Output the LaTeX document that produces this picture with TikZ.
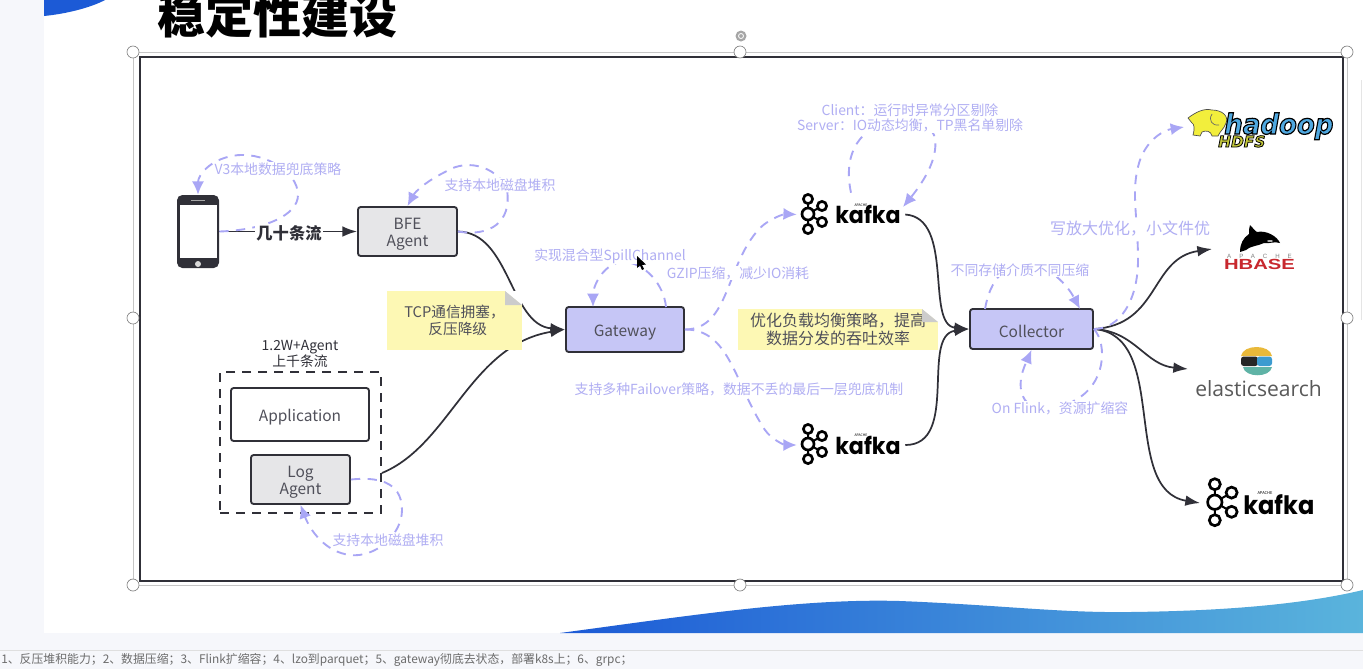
\documentclass[tikz,border=0pt]{standalone}
\usepackage{fontspec}
\setmainfont{Noto Sans CJK SC}
\newfontfamily\kaf{Poppins}
\newfontfamily\elas{Open Sans}
\newfontfamily\hadf{DejaVu Sans}
\newfontfamily\hbf{Liberation Sans}
\newfontfamily\hbsp[LetterSpace=130]{Liberation Sans}
\usetikzlibrary{arrows.meta,calc}
\newcommand\pxu{0.75pt}
\newcommand\fsz[1]{\fontsize{#1}{#1}\selectfont}
\newcommand\dnn{\rule{0pt}{13pt}}
\newcommand\outlined[2]{\special{pdf:code q 2 Tr #1 w 0 0 0 RG}#2\special{pdf:code Q}}
\definecolor{lav}{HTML}{A9A6F5}
\definecolor{lavtx}{HTML}{B0AEF3}
\definecolor{dk}{HTML}{303038}
\definecolor{boxtx}{HTML}{50505A}
\definecolor{grayfill}{HTML}{E6E6E8}
\definecolor{purfill}{HTML}{C6C6F6}
\definecolor{notey}{HTML}{FDF8B4}
\definecolor{pagebg}{HTML}{F6F7FB}
\definecolor{waveA}{HTML}{1C5AD6}
\definecolor{waveB}{HTML}{5AB4DC}
\definecolor{hadblue}{HTML}{4FA8E0}
\definecolor{hadyel}{HTML}{F2EE3C}
\definecolor{hdfsyel}{HTML}{C4C83A}
\definecolor{hbred}{HTML}{C8282E}
\definecolor{esyel}{HTML}{E9B93A}
\definecolor{esblue}{HTML}{3C9BD0}
\definecolor{esteal}{HTML}{5FB3A6}
\tikzset{
  boxs/.style={draw=dk,line width=1.4pt,rounded corners=2pt,align=center,text=boxtx,font=\fsz{11.6},inner sep=0pt},
  conn/.style={draw=dk,line width=1.3pt,-{Latex[length=11pt,width=8pt]}},
  pconn/.style={draw=lav,line width=1.4pt,dash pattern=on 7pt off 5.5pt,-{Latex[length=10pt,width=9pt,fill=lav]}},
  lbl/.style={text=lavtx,font=\fsz{10.4},fill=white,inner sep=0.6pt},
  notes/.style={fill=notey,inner sep=0pt,align=center,text=boxtx},
  logobox/.style={inner sep=0pt,minimum width=108*\pxu,minimum height=43*\pxu},
  handle/.style={circle,draw=gray,fill=white,line width=0.5pt,minimum size=12*\pxu,inner sep=0pt},
  kafkatxt/.style={anchor=base west,text=black,inner sep=0pt,xscale=0.95},
}
\newcommand\kafkaicon[3]{%
\begin{scope}[shift={(#1,#2)},scale=#3]
  \draw[black,line width=1.5pt] (9,6)--(9,36) (9,21)--(23,13) (9,21)--(23,29);
  \foreach \cx/\cy/\r in {9/6/4.6,23/13/4.6,9/21/6,23/29/4.6,9/36/4.6}
    \draw[black,fill=white,line width=2pt] (\cx,\cy) circle (\r);
\end{scope}}
\begin{document}
\begin{tikzpicture}[x=0.75pt,y=-0.75pt]
\clip (0,0) rectangle (1363,669);
% backdrop
\fill[pagebg] (0,0) rectangle (1363,669);
\fill[white] (44,0) rectangle (1363,633);
\draw[gray!25,line width=0.6pt] (0,650) -- (1363,650);
\draw[gray!20,line width=0.6pt] (1361,80) -- (1361,320);
\fill[waveA] (44,0) -- (105,0) .. controls (90,8) and (65,14) .. (44,16) -- cycle;
\shade[left color=waveA,right color=waveB]
  (560,633) .. controls (680,617) and (800,598) .. (900,601)
  .. controls (1000,605) and (1060,613) .. (1130,612)
  .. controls (1220,611) and (1300,605) .. (1363,590) -- (1363,633) -- cycle;
\node[anchor=center,font=\fsz{36}\bfseries,text=black,inner sep=0pt] (title) at (277,15) {稳定性建设};
\node[anchor=west,font=\fsz{8.9},text=gray!85!black,inner sep=0pt] (foot) at (1,660) {1、反压堆积能力；2、数据压缩；3、Flink扩缩容；4、lzo到parquet；5、gateway彻底去状态，部署k8s上；6、grpc；};
% selection frame
\draw[gray!45,line width=0.6pt] (133,52) rectangle (1347,585);
\draw[dk,line width=1.5pt] (140,57) rectangle (1343,581);
\foreach \hx/\hy in {133/52,740/52,1347/52,133/318,1347/318,133/585,740/585,1347/585}
  \node[handle] at (\hx,\hy) {};
\node[circle,fill=gray!70,minimum size=11*\pxu,inner sep=0pt] (rot) at (741,36) {};
\node[circle,draw=white,line width=0.6pt,minimum size=5*\pxu,inner sep=0pt] at (741,36) {};
% boxes
\node[boxs,fill=grayfill,minimum width=99*\pxu,minimum height=49*\pxu] (bfe) at (407.5,231.5) {\dnn BFE\\[1pt]Agent};
\node[boxs,fill=purfill,minimum width=118*\pxu,minimum height=45*\pxu] (gw) at (625,329.5) {\dnn Gateway};
\node[boxs,fill=purfill,minimum width=123*\pxu,minimum height=40*\pxu] (coll) at (1031.5,329) {\dnn Collector};
\node[boxs,fill=white,minimum width=138*\pxu,minimum height=53*\pxu] (app) at (300,414.5) {\dnn Application};
\node[boxs,fill=grayfill,minimum width=99*\pxu,minimum height=49*\pxu] (log) at (300.5,479.5) {\dnn Log\\[1pt]Agent};
\node[draw=dk,line width=1.4pt,dash pattern=on 7pt off 5pt,minimum width=161*\pxu,minimum height=141*\pxu,inner sep=0pt] (group) at (300.5,442.5) {};
\node[align=center,text=dk,font=\fsz{10.4},inner sep=0pt] (grouplbl) at (300,354) {1.2W+Agent\\[0.3pt]上千条流};
% phone
\node[fill=dk,rounded corners=4pt,minimum width=42*\pxu,minimum height=73*\pxu,inner sep=0pt] (phone) at (198,231.5) {};
\fill[white] (180,205) rectangle (217,257.5);
\fill[white!85!black] (198,264) circle (3);
\draw[gray!70,line width=0.8pt] (191,200.5) -- (205,200.5);
% logo anchors
\node[logobox] (kafkaA) at (851,214.5) {};
\node[logobox] (kafkaB) at (851,445) {};
\node[logobox,minimum height=50*\pxu,minimum width=112*\pxu] (kafkaC) at (1258,503) {};
\node[logobox,minimum width=146*\pxu,minimum height=38*\pxu] (hdfs) at (1258,128) {};
\node[logobox,minimum width=72*\pxu,minimum height=46*\pxu] (hbase) at (1260,249) {};
\node[logobox,minimum width=126*\pxu,minimum height=56*\pxu] (es) at (1258,371) {};
\coordinate (kafkaAin) at (903,207);
\coordinate (hdfsIn) at (1184,127);
\coordinate (hbaseIn) at (1212,249);
\coordinate (esIn) at (1188,369);
\coordinate (kafkaCin) at (1200,503);
\coordinate (gwA) at (666,307);
\coordinate (gwB) at (593,307);
\coordinate (collA) at (985,309);
\coordinate (collB) at (1080,309);
% black connectors
\draw[conn] (phone.east) -- (bfe.west);
\draw[conn] (bfe.east) .. controls (510,232) and (510,325) .. (gw.west);
\draw[conn] (log.east -| group.east) ++(0,-6.5) .. controls (450,445) and (470,345) .. (gw.west);
\draw[conn] (kafkaA.east) .. controls (955,218) and (925,325) .. (coll.west);
\draw[conn] (kafkaB.east) .. controls (960,445) and (920,335) .. (coll.west);
\draw[conn] (coll.east) .. controls (1160,325) and (1150,258) .. (hbaseIn);
\draw[conn] (coll.east) .. controls (1135,331) and (1145,365) .. (esIn);
\draw[conn] (coll.east) .. controls (1170,335) and (1120,490) .. (kafkaCin);
% purple connectors
\draw[pconn] (phone.east) .. controls (265,230) and (298,215) .. (298,195)
  .. controls (298,170) and (260,150) .. (232,156) .. controls (210,160) and (198,175) .. (phone.north);
\draw[pconn] (bfe.east) .. controls (490,237) and (512,222) .. (507,190)
  .. controls (500,170) and (470,156) .. (445,172) .. controls (425,182) and (415,192) .. (bfe.north);
\draw[pconn] (gwA) .. controls (664,285) and (645,262) .. (623,262) .. controls (605,262) and (593,285) .. (gwB);
\draw[pconn] (gw.east) .. controls (730,329) and (725,265) .. (760,228) .. controls (770,218) and (785,214) .. (kafkaA.west);
\draw[pconn] (gw.east) .. controls (730,329) and (735,385) .. (765,430) .. controls (772,440) and (785,445) .. (kafkaB.west);
\draw[pconn] (kafkaA.north) .. controls (845,165) and (852,145) .. (866,133) .. controls (885,115) and (925,115) .. (934,135)
  .. controls (940,155) and (925,180) .. (kafkaAin);
\draw[pconn] (collA) .. controls (990,280) and (1005,262) .. (1030,265) .. controls (1055,268) and (1070,290) .. (collB);
\draw[pconn] (coll.east) .. controls (1108,345) and (1105,385) .. (1075,400) .. controls (1055,415) and (1035,412) .. (1025,400)
  .. controls (1015,385) and (1025,365) .. (coll.south);
\draw[pconn] (coll.east) .. controls (1120,329) and (1138,300) .. (1138,260) .. controls (1138,215) and (1130,190) .. (1140,160)
  .. controls (1148,138) and (1165,130) .. (hdfsIn);
\draw[pconn] (log.east) .. controls (375,477) and (402,480) .. (402,510) .. controls (402,535) and (375,558) .. (350,555)
  .. controls (325,552) and (310,530) .. (log.south);
% labels
\node[fill=white,inner sep=1pt,text=dk,font=\fsz{12.2}\bfseries] (streams) at (289,233) {几十条流};
\node[lbl] (l1) at (278,169.5) {V3本地数据兜底策略};
\node[lbl] (l2) at (500,185) {支持本地磁盘堆积};
\node[lbl] (l3) at (610,256) {实现混合型SpillChannel};
\node[lbl] (l4) at (738,273) {GZIP压缩，减少IO消耗};
\node[lbl] (l5) at (739,389) {支持多种Failover策略，数据不丢的最后一层兜底机制};
\node[lbl,align=center] (l6) at (910,118) {Client：运行时异常分区剔除\\[1.1pt]Server：IO动态均衡，TP黑名单剔除};
\node[lbl] (l7) at (1020,270) {不同存储介质不同压缩};
\node[lbl] (l8) at (1060,408) {On Flink，资源扩缩容};
\node[lbl,font=\fsz{12}] (l9) at (1130,229) {写放大优化，小文件优};
\node[lbl] (l10) at (388,540) {支持本地磁盘堆积};
% notes
\node[notes,font=\fsz{11},minimum width=135*\pxu,minimum height=59*\pxu] (noteA) at (454.5,320.5) {TCP通信拥塞，\\[2pt]\ \ 反压降级};
\fill[white] (505,291) -- (522,291) -- (522,305) -- cycle;
\fill[gray!40] (505,291) -- (522,305) -- (505,305) -- cycle;
\node[notes,font=\fsz{12},minimum width=200*\pxu,minimum height=41*\pxu] (noteB) at (838,329.5) {优化负载均衡策略，提高\\[1pt]数据分发的吞吐效率};
\fill[white] (922,309) -- (938,309) -- (938,322) -- cycle;
\fill[gray!40] (922,309) -- (938,322) -- (922,322) -- cycle;
% cursor
\fill[black] (637,256) -- (637,268) -- (640,265.5) -- (642,270) -- (644,269) -- (642,265) -- (646,264.5) -- cycle;
% kafka logos
\kafkaicon{799}{193}{1}
\node[kafkatxt,font=\kaf\fsz{17.5}\bfseries] at (835,223.5) {kafka};
\kafkaicon{799}{423}{1}
\node[kafkatxt,font=\kaf\fsz{17.5}\bfseries] at (835,454.5) {kafka};
\kafkaicon{1204}{477}{1.2}
\node[kafkatxt,font=\kaf\fsz{19}\bfseries] at (1243,514) {kafka};
\node[font=\fsz{2.6},text=black,inner sep=0pt] at (861,205) {APACHE};
\node[font=\fsz{2.6},text=black,inner sep=0pt] at (861,435) {APACHE};
\node[font=\fsz{3},text=black,inner sep=0pt] at (1265,493) {APACHE};
% hadoop logo
\fill[hadyel,draw=black!70,line width=0.5pt] (1188,118) .. controls (1196,112) and (1204,108) .. (1212,110)
  .. controls (1222,110) and (1229,116) .. (1226,123) .. controls (1224,129) and (1220,131) .. (1218,136)
  -- (1212,136) .. controls (1211,131) and (1206,130) .. (1202,132) -- (1200,136) -- (1193,135)
  .. controls (1195,128) and (1194,124) .. (1192,123) -- cycle;
\draw[black!60,line width=0.5pt] (1212,114) .. controls (1208,120) and (1212,126) .. (1219,125);
\node[anchor=base west,font=\hadf\fsz{21}\bfseries\itshape,text=hadblue,inner sep=0pt,xscale=0.93] (hadtxt) at (1224,134) {\outlined{0.9}{hadoop}};
\node[anchor=base west,font=\hadf\fsz{11.5}\bfseries\itshape,text=hdfsyel,inner sep=0pt] (hdfstxt) at (1218,147) {\outlined{0.6}{HDFS}};
% hbase logo
\fill[black] (1240,252) .. controls (1240,244) and (1243,238) .. (1249,234)
  .. controls (1249,230) and (1249,228) .. (1250,225) .. controls (1253,228) and (1255,231) .. (1257,232)
  .. controls (1266,230) and (1277,236) .. (1280,243) .. controls (1274,241) and (1270,244) .. (1264,243)
  .. controls (1258,246) and (1250,246) .. (1246,250) -- cycle;
\fill[gray!60] (1270,241) ellipse (3 and 1);
\node[font=\hbsp\fsz{4.6},text=gray,inner sep=0pt] (hbapache) at (1259.5,256) {APACHE};
\node[font=\hbf\fsz{11}\bfseries,text=hbred,inner sep=0pt,xscale=1.38] (hbtxt) at (1259.5,264) {HBASE};
% elastic logo
\fill[esyel] (1241,356) .. controls (1243,344) and (1270,344) .. (1272,356) -- cycle;
\fill[black!85,rounded corners=2pt] (1241,356.5) rectangle (1258,366);
\fill[esblue,rounded corners=2pt] (1257,356.5) rectangle (1272,366);
\fill[esteal] (1243,367) -- (1272,367) .. controls (1270,378) and (1245,378) .. (1243,367) -- cycle;
\node[font=\elas\fsz{15.8},text=black!65,inner sep=0pt] (estxt) at (1258.5,389) {elasticsearch};
\end{tikzpicture}
\end{document}
